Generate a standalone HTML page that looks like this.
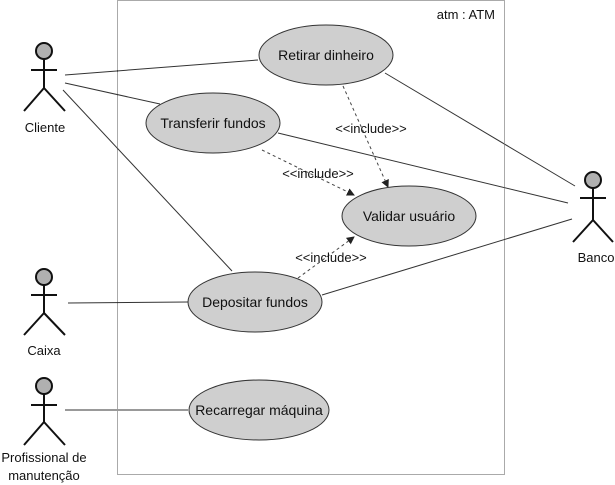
<!DOCTYPE html>
<html><head><meta charset="utf-8"><style>
html,body{margin:0;padding:0;background:#fff;}
svg{display:block;}
text{font-family:"Liberation Sans",sans-serif;font-size:13px;fill:#111;}
.u{font-size:14px;}
</style></head><body>
<svg width="615" height="485" viewBox="0 0 615 485" xmlns="http://www.w3.org/2000/svg">
<defs>
<marker id="ah" markerWidth="8" markerHeight="8" refX="7" refY="4" orient="auto" markerUnits="userSpaceOnUse">
<path d="M0,0 L8,4 L0,8 z" fill="#222"/></marker>
</defs>
<rect x="117.5" y="0.5" width="387" height="474" fill="none" stroke="#555" stroke-width="1" stroke-dasharray="1,1"/>
<text x="495" y="19" text-anchor="end">atm : ATM</text>

<g stroke="#333" stroke-width="1" fill="none">
<line x1="65" y1="75" x2="258" y2="60"/>
<line x1="65" y1="83" x2="160" y2="104"/>
<line x1="63" y1="90" x2="232" y2="271"/>
<line x1="278" y1="133" x2="568" y2="203"/>
<line x1="385" y1="73" x2="575" y2="186"/>
<line x1="322" y1="295" x2="572" y2="219"/>
<line x1="68" y1="303" x2="188" y2="302"/>
<line x1="65" y1="410" x2="188" y2="410"/>
</g>
<g stroke="#444" stroke-width="1" fill="none" stroke-dasharray="3,3" marker-end="url(#ah)">
<line x1="343" y1="86" x2="388" y2="187"/>
<line x1="262" y1="150" x2="354" y2="195"/>
<line x1="298" y1="278" x2="354" y2="237"/>
</g>
<text x="371" y="133" text-anchor="middle">&lt;&lt;include&gt;&gt;</text>
<text x="318" y="178" text-anchor="middle">&lt;&lt;include&gt;&gt;</text>
<text x="331" y="262" text-anchor="middle">&lt;&lt;include&gt;&gt;</text>

<g fill="#cfcfcf" stroke="#333" stroke-width="1">
<ellipse cx="326" cy="55" rx="67" ry="30"/>
<ellipse cx="213" cy="123" rx="67" ry="30"/>
<ellipse cx="409" cy="216" rx="67" ry="30"/>
<ellipse cx="255" cy="302" rx="67" ry="30"/>
<ellipse cx="259" cy="410" rx="70" ry="30"/>
</g>
<g text-anchor="middle" class="u">
<text class="u" x="326" y="60">Retirar dinheiro</text>
<text class="u" x="213" y="128">Transferir fundos</text>
<text class="u" x="409" y="221">Validar usuário</text>
<text class="u" x="255" y="307">Depositar fundos</text>
<text class="u" x="259" y="415">Recarregar máquina</text>
</g>

<g stroke="#111" stroke-width="2" fill="none">
<circle cx="44" cy="51" r="8" fill="#b0b0b0"/>
<path d="M44 59 V88 M31 70 H57 M44 88 L24 111 M44 88 L65 111"/>
<circle cx="44" cy="277" r="8" fill="#b0b0b0"/>
<path d="M44 285 V313 M31 295 H57 M44 313 L24 335 M44 313 L65 335"/>
<circle cx="44" cy="386" r="8" fill="#b0b0b0"/>
<path d="M44 394 V422 M31 405 H57 M44 422 L24 445 M44 422 L65 445"/>
<circle cx="593" cy="180" r="8" fill="#b0b0b0"/>
<path d="M593 188 V220 M580 198 H606 M593 220 L573 242 M593 220 L613 242"/>
</g>
<g text-anchor="middle">
<text x="45" y="132">Cliente</text>
<text x="44" y="355">Caixa</text>
<text x="44" y="462">Profissional de</text>
<text x="44" y="480">manutenção</text>
<text x="596" y="262">Banco</text>
</g>
</svg>
</body></html>
